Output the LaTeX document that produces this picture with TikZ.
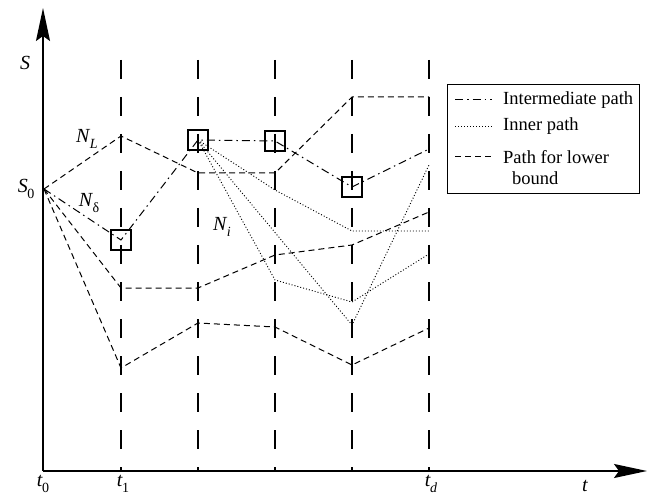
\documentclass[tikz,border=0pt]{standalone}
\usepackage{fontspec}
\setmainfont{Liberation Serif}
\usetikzlibrary{arrows.meta}
\newcommand{\mysub}[2]{\textit{#1}\kern-0.5pt\raisebox{-0.3em}{\fontsize{14}{14}\selectfont #2}}
\tikzset{
  axis/.style={line width=1.5pt,-{Stealth[length=33pt,width=14pt,inset=5pt]}},
  grid/.style={line width=1.2pt,dash pattern=on 19pt off 18pt},
  lower/.style={line width=1pt,dash pattern=on 6pt off 4pt},
  inter/.style={line width=1pt,dash pattern=on 8pt off 4pt on 1.5pt off 4pt},
  inner/.style={line width=0.9pt,dash pattern=on 1pt off 2pt},
  sq/.style={draw,line width=1.5pt,minimum size=20pt,inner sep=0pt},
  lbl/.style={inner sep=0pt,font=\fontsize{20}{22}\selectfont},
  leg/.style={inner sep=0pt,anchor=west,font=\fontsize{18.5}{21}\selectfont}
}
\begin{document}
\begin{tikzpicture}[x=1pt,y=-1pt]
\useasboundingbox (0,0) rectangle (648,497);
% axes
\coordinate (O) at (43,471);
\coordinate (Ytip) at (43,8);
\coordinate (Xtip) at (647,471);
\draw[axis] (O) -- (Ytip);
\draw[axis] (O) -- (Xtip);
% vertical grid lines
\foreach \x/\n in {121/g1,198/g2,275/g3,352/g4,429/g5}{
  \coordinate (\n top) at (\x,60);
  \coordinate (\n bot) at (\x,471);
  \draw[grid] (\n top) -- (\n bot);
}
% points
\coordinate (S0) at (44,189);
\coordinate (a1) at (121,136); \coordinate (a2) at (198,173); \coordinate (a3) at (275,173); \coordinate (a4) at (352,97); \coordinate (a5) at (429,97);
\coordinate (b1) at (121,288); \coordinate (b2) at (198,288); \coordinate (b3) at (275,255); \coordinate (b4) at (352,245); \coordinate (b5) at (429,212);
\coordinate (c1) at (121,368); \coordinate (c2) at (198,323); \coordinate (c3) at (275,327); \coordinate (c4) at (352,365); \coordinate (c5) at (429,328);
\coordinate (m1) at (121,240); \coordinate (m2) at (198,140); \coordinate (m3) at (275,141); \coordinate (m4) at (352,187); \coordinate (m5) at (429,149);
\coordinate (d1) at (275,190); \coordinate (d2) at (352,231); \coordinate (d3) at (429,231);
\coordinate (e1) at (275,280); \coordinate (e2) at (352,302); \coordinate (e3) at (429,254);
\coordinate (f1) at (352,325); \coordinate (f2) at (429,165);
% lower bound paths
\draw[lower] (S0) -- (a1) -- (a2) -- (a3) -- (a4) -- (a5);
\draw[lower] (S0) -- (b1) -- (b2) -- (b3) -- (b4) -- (b5);
\draw[lower] (S0) -- (c1) -- (c2) -- (c3) -- (c4) -- (c5);
% intermediate path
\draw[inter] (S0) -- (m1) -- (m2) -- (m3) -- (m4) -- (m5);
% inner paths
\draw[inner] (m2) -- (d1) -- (d2) -- (d3);
\draw[inner] (m2) -- (e1) -- (e2) -- (e3);
\draw[inner] (m2) -- (f1) -- (f2);
% squares
\node[sq] (q1) at (m1) {};
\node[sq] (q2) at (m2) {};
\node[sq] (q3) at (m3) {};
\node[sq] (q4) at (m4) {};
% labels
\node[lbl] (lS) at (25,63) {\textit{S}};
\node[lbl] (lS0) at (26,189) {\mysub{S}{0}};
\node[lbl] (lNL) at (87,139) {\mysub{N}{\textit{L}}};
\node[lbl] (lNd) at (89,203) {\mysub{N}{δ}};
\node[lbl] (lNi) at (222,227) {\mysub{N}{\textit{i}}};
\node[lbl] (lt0) at (43,484) {\mysub{t}{0}};
\node[lbl] (lt1) at (123,484) {\mysub{t}{1}};
\node[lbl] (ltd) at (431,484) {\mysub{t}{\textit{d}}};
\node[lbl] (lt) at (585,486) {\textit{t}};
% legend
\node[draw,line width=1pt,minimum width=192pt,minimum height=109pt,inner sep=0pt] (legend) at (543,139.5) {};
\coordinate (L1a) at (455,100); \coordinate (L1b) at (492,100);
\coordinate (L2a) at (455,126); \coordinate (L2b) at (492,126);
\coordinate (L3a) at (455,157); \coordinate (L3b) at (492,157);
\draw[inter] (L1a) -- (L1b);
\draw[inner] (L2a) -- (L2b);
\draw[lower] (L3a) -- (L3b);
\node[leg] (t1) at (503,100) {Intermediate path};
\node[leg] (t2) at (503,126) {Inner path};
\node[leg] (t3) at (503,157) {Path for lower};
\node[leg] (t4) at (512,178) {bound};
\end{tikzpicture}
\end{document}
